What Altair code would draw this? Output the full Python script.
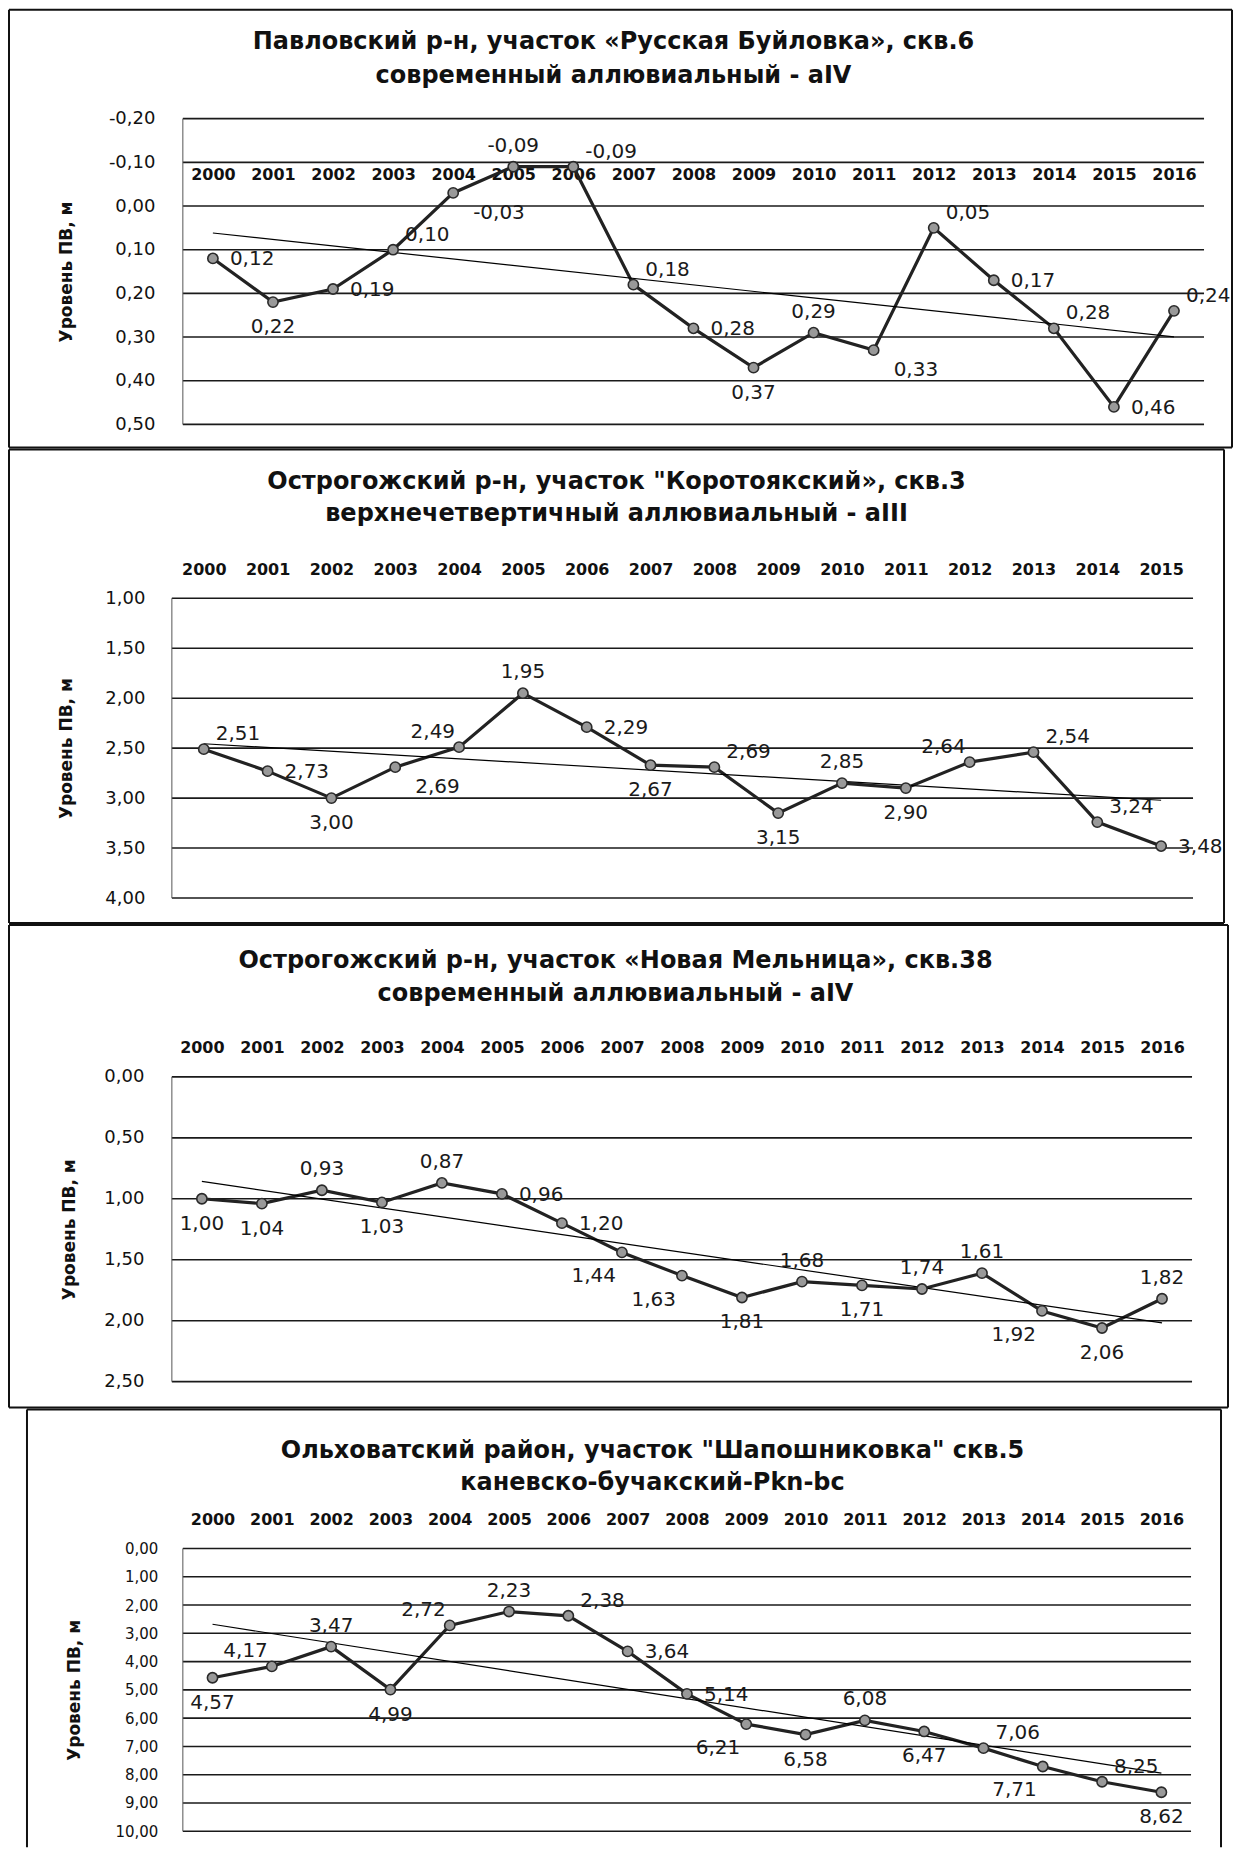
import altair as alt
import pandas as pd

FONT = "DejaVu Sans"

# ---------------- data ----------------
p1_years = list(range(2000, 2017))
p1_values = [0.12, 0.22, 0.19, 0.10, -0.03, -0.09, -0.09, 0.18, 0.28, 0.37,
             0.29, 0.33, 0.05, 0.17, 0.28, 0.46, 0.24]
p1_label_pos = ["r", "b", "r", "ar", "br", "a", "ar", "ar", "r", "b",
                "a", "br", "ar", "r", "ar", "r", "ar"]
p1_ticks = [-0.2, -0.1, 0.0, 0.1, 0.2, 0.3, 0.4, 0.5]
p1_title = ["Павловский р-н, участок «Русская Буйловка», скв.6",
            "современный аллювиальный - aIV"]

p2_years = list(range(2000, 2016))
p2_values = [2.51, 2.73, 3.00, 2.69, 2.49, 1.95, 2.29, 2.67, 2.69, 3.15,
             2.85, 2.90, 2.64, 2.54, 3.24, 3.48]
p2_label_pos = ["ar", "r", "b", "br", "al", "a", "r", "b", "ar", "b",
                "a", "b", "al", "ar", "ar", "r"]
p2_ticks = [1.0, 1.5, 2.0, 2.5, 3.0, 3.5, 4.0]
p2_title = ["Острогожский р-н, участок \"Коротоякский», скв.3",
            "верхнечетвертичный аллювиальный - aIII"]

p3_years = list(range(2000, 2017))
p3_values = [1.00, 1.04, 0.93, 1.03, 0.87, 0.96, 1.20, 1.44, 1.63, 1.81,
             1.68, 1.71, 1.74, 1.61, 1.92, 2.06, 1.82]
p3_label_pos = ["b", "b", "a", "b", "a", "r", "r", "bl", "bl", "b",
                "a", "b", "a", "a", "bl", "b", "a"]
p3_ticks = [0.0, 0.5, 1.0, 1.5, 2.0, 2.5]
p3_title = ["Острогожский р-н,  участок «Новая Мельница», скв.38",
            "современный аллювиальный - aIV"]

p4_years = list(range(2000, 2017))
p4_values = [4.57, 4.17, 3.47, 4.99, 2.72, 2.23, 2.38, 3.64, 5.14, 6.21,
             6.58, 6.08, 6.47, 7.06, 7.71, 8.25, 8.62]
p4_label_pos = ["b", "al", "a", "b", "al", "a", "ar", "r", "r", "bl",
                "b", "a", "b", "ar", "bl", "ar", "b"]
p4_ticks = [0, 1, 2, 3, 4, 5, 6, 7, 8, 9, 10]
p4_title = ["Ольховатский район, участок \"Шапошниковка\"  скв.5",
            "каневско-бучакский-Pkn-bc"]

y_title = "Уровень ПВ, м"

# label placement styles: dx, dy, align
PLACE = {
    "r": (17, 1, "left"),
    "l": (-17, 1, "right"),
    "a": (0, -21, "center"),
    "b": (0, 25, "center"),
    "ar": (12, -15, "left"),
    "al": (-4, -15, "right"),
    "br": (20, 20, "left"),
    "bl": (-6, 24, "right"),
}

COMMA = "replace(replace(format({f}, '.2f'), '.', ','), '\u2212', '-')"
ONE = alt.Data(values=[{"k": 1}])


def frame_layers(L, R, T, B, draw_bottom=True):
    def hrule(x1, x2, yv, op=1.0):
        return alt.Chart(ONE).mark_rule(color="#111111", strokeWidth=2, strokeOpacity=op).encode(
            x=alt.value(x1), x2=alt.value(x2), y=alt.value(yv))

    def vrule(xv, y1, y2):
        return alt.Chart(ONE).mark_rule(color="#111111", strokeWidth=2).encode(
            x=alt.value(xv), y=alt.value(y1), y2=alt.value(y2))

    return [hrule(L, R, T), vrule(L, T, B), vrule(R, T, B),
            hrule(L, R, B, 1.0 if draw_bottom else 0.0)]


def panel(years, values, pos, ticks, title, ydom, w, h, inset, frame, title_pos,
          inside_axis=None, tick_font=18, label_pad=27, ytitle_x=-105):
    df = pd.DataFrame({"year": years, "value": values, "pos": pos})
    base = alt.Chart(df)

    xscale = alt.Scale(domain=[years[0] - 0.5, years[-1] + 0.5], range=[inset, w],
                       nice=False, zero=False)
    common_x = dict(values=years, format="d", grid=False, ticks=False, domain=False,
                    labelFont=FONT, labelFontSize=16, labelFontWeight="bold",
                    labelColor="#111111", title=None)
    if inside_axis is not None:
        xaxis = alt.Axis(orient="bottom", offset=inside_axis - h, labelPadding=4, **common_x)
    else:
        xaxis = alt.Axis(orient="top", labelPadding=21, **common_x)
    x = alt.X("year:Q", scale=xscale, axis=xaxis)

    yaxis = alt.Axis(values=ticks, labelExpr=COMMA.format(f="datum.value"),
                     grid=False, domain=False, ticks=False, labelPadding=label_pad,
                     labelFont=FONT, labelFontSize=tick_font, labelColor="#111111",
                     title=y_title, titleFont=FONT, titleFontSize=17,
                     titleFontWeight="bold", titleColor="#111111",
                     titleX=ytitle_x, titleBaseline="middle")
    y = alt.Y("value:Q", scale=alt.Scale(domain=ydom, reverse=True, nice=False, zero=False),
              axis=yaxis)

    grid_df = pd.DataFrame({"value": ticks})
    grid = alt.Chart(grid_df).mark_rule(color="#1a1a1a", strokeWidth=1.6).encode(
        y=y, x=alt.value(inset), x2=alt.value(w))
    left_border = alt.Chart(ONE).mark_rule(color="#555555", strokeWidth=1).encode(
        x=alt.value(inset), y=alt.value(0), y2=alt.value(h))

    line = base.mark_line(color="#222222", strokeWidth=3.2).encode(x=x, y=y)
    trend = base.transform_regression("year", "value").mark_line(
        color="#000000", strokeWidth=1.2).encode(x=x, y=y)
    pts = base.mark_circle(size=105, color="#999999", stroke="#2a2a2a",
                           strokeWidth=1.6, opacity=1).encode(x=x, y=y)

    labels = []
    for code in sorted(set(pos)):
        dx, dy, align = PLACE[code]
        labels.append(
            base.transform_filter(alt.datum.pos == code)
            .transform_calculate(label=COMMA.format(f="datum.value"))
            .mark_text(dx=dx, dy=dy, align=align, baseline="middle",
                       font=FONT, fontSize=20, color="#1a1a1a")
            .encode(x=x, y=y, text="label:N")
        )

    cx, cy1, cy2 = title_pos
    titles = [
        alt.Chart(ONE).mark_text(text=t, font=FONT, fontSize=24, fontWeight="bold",
                                 color="#111111", align="center", baseline="middle")
        .encode(x=alt.value(cx), y=alt.value(cy))
        for t, cy in ((title[0], cy1), (title[1], cy2))
    ]

    L, R, T, B, draw_bottom = frame
    frames = frame_layers(L, R, T, B, draw_bottom)

    return alt.layer(grid, left_border, line, trend, pts, *labels, *titles, *frames).properties(
        width=w, height=h)


# plot origin for every panel is at page x = 172
p1 = panel(p1_years, p1_values, p1_label_pos, p1_ticks, p1_title, [-0.2, 0.5],
           1033, 306, 11, (-163, 1061, -109, 329, True), (442, -77, -43),
           inside_axis=44, tick_font=18, label_pad=17, ytitle_x=-105)
p2 = panel(p2_years, p2_values, p2_label_pos, p2_ticks, p2_title, [1.0, 4.0],
           1022, 300, 0, (-163, 1053, -149, 325, True), (445, -116, -84),
           tick_font=18, label_pad=27, ytitle_x=-105)
p3 = panel(p3_years, p3_values, p3_label_pos, p3_ticks, p3_title, [0.0, 2.5],
           1021, 305, 0, (-163, 1057, -152, 331, True), (444, -116, -83),
           tick_font=18, label_pad=28, ytitle_x=-102)
p4 = panel(p4_years, p4_values, p4_label_pos, p4_ticks, p4_title, [0, 10],
           1020, 283, 11, (-145, 1050, -139, 299, False), (481, -98, -66),
           tick_font=15, label_pad=14, ytitle_x=-97)

chart = alt.vconcat(p1, p2, p3, p4, spacing=0).properties(
    padding=0, background="white"
).configure_view(strokeWidth=0)

chart.save("out.html", embed_options={"renderer": "svg", "actions": False})
